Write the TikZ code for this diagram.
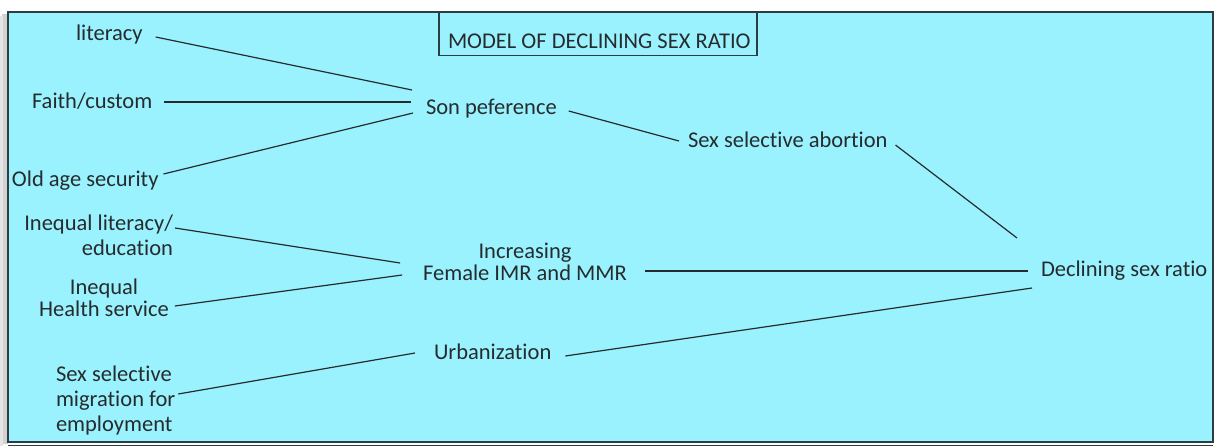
\documentclass[tikz,border=0pt]{standalone}
\usepackage{fontspec}
\setmainfont{Carlito}[Ligatures=NoCommon]
\definecolor{bgcyan}{RGB}{154,242,254}
\definecolor{ink}{RGB}{38,44,46}
\definecolor{framec}{RGB}{45,62,66}
\begin{document}
\begin{tikzpicture}[x=1pt,y=-1pt,
  lbl/.style={inner sep=0pt,outer sep=0pt,text=ink,font=\fontsize{22.5}{25}\selectfont},
  tight/.style={lbl,font=\fontsize{22.5}{22}\selectfont},
  link/.style={draw=ink,line width=1.2pt}]
\useasboundingbox (0,0) rectangle (1215,447);
% shadow and frame
\fill[gray!35] (2,14) rectangle (8,444);
\fill[gray!20] (0,16) rectangle (3,446);
\draw[fill=bgcyan,draw=framec,line width=1.5pt] (8,12) rectangle (1213,442);
\draw[framec,line width=1pt] (8,445) -- (1213,445);
% title
\node[draw=framec,line width=1.2pt,minimum width=318pt,minimum height=44pt,inner sep=0pt] (titlebox) at (598,33.5) {};
\node[lbl,anchor=base west] (title) at (448,48) {MODEL OF DECLINING SEX RATIO};
% left column
\node[lbl,anchor=base west] (lit) at (76,40) {literacy};
\node[lbl,anchor=base west] (faith) at (32,108) {Faith/custom};
\node[lbl,anchor=base west] (old) at (12,186) {Old age security};
\node[lbl,align=right,anchor=east] (ineqlit) at (173,235) {Inequal literacy/\\education};
\node[tight,align=center] (health) at (104,298) {Inequal\\Health service};
\node[lbl,align=left,anchor=west] (migr) at (56,400) {Sex selective\\migration for\\employment};
% middle column
\node[lbl,anchor=base west] (son) at (426,114) {Son peference};
\node[lbl,anchor=base west] (abort) at (688,147) {Sex selective abortion};
\node[tight,align=center] (incr) at (525,262) {Increasing\\Female IMR and MMR};
\node[lbl,anchor=base west] (urban) at (434,359) {Urbanization};
% right
\node[lbl,anchor=base west] (decl) at (1041,276) {Declining sex ratio};
% connectors
\draw[link] ([xshift=13pt,yshift=3pt]lit.base east) -- ([xshift=-14pt,yshift=24pt]son.base west);
\draw[link] ([xshift=12pt,yshift=6pt]faith.base east) -- ([xshift=-15pt,yshift=12pt]son.base west);
\draw[link] ([xshift=5pt,yshift=12pt]old.base east) -- ([xshift=-13pt,yshift=1pt]son.base west);
\draw[link] ([xshift=12pt,yshift=3pt]son.base east) -- ([xshift=-9pt,yshift=6pt]abort.base west);
\draw[link] ([xshift=8pt,yshift=2pt]abort.base east) -- ([xshift=-24pt,yshift=38pt]decl.base west);
\draw[link] ([xshift=2pt,yshift=7pt]ineqlit.east) -- ([xshift=-23pt,yshift=-1pt]incr.west);
\draw[link] ([xshift=6pt,yshift=-8pt]health.east) -- ([xshift=-21pt,yshift=-13pt]incr.west);
\draw[link] ([xshift=3pt,yshift=6pt]migr.east) -- ([xshift=-19pt,yshift=6pt]urban.base west);
\draw[link] ([xshift=18pt,yshift=-9pt]incr.east) -- ([xshift=-13pt,yshift=5pt]decl.base west);
\draw[link] ([xshift=14pt,yshift=3pt]urban.base east) -- ([xshift=-9pt,yshift=-12pt]decl.base west);
\end{tikzpicture}
\end{document}
